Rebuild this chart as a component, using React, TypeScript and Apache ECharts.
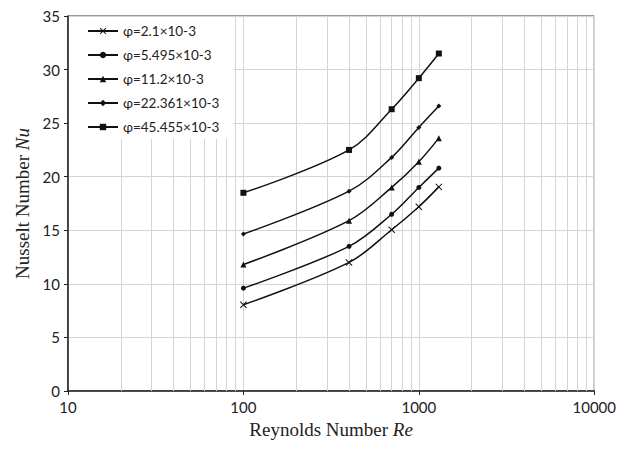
import React, { useEffect, useRef } from "react";
import * as echarts from "echarts";

const reynolds = [100, 400, 700, 1000, 1300];
const seriesNames = [
  "φ=2.1×10-3",
  "φ=5.495×10-3",
  "φ=11.2×10-3",
  "φ=22.361×10-3",
  "φ=45.455×10-3",
];
const nu_2_1 = [8.05, 12.0, 15.05, 17.2, 19.05];
const nu_5_495 = [9.6, 13.5, 16.5, 19.0, 20.8];
const nu_11_2 = [11.8, 15.9, 19.0, 21.4, 23.6];
const nu_22_361 = [14.65, 18.65, 21.8, 24.6, 26.6];
const nu_45_455 = [18.5, 22.5, 26.3, 29.2, 31.5];
const minorGridX = [20, 30, 40, 50, 60, 70, 80, 90, 200, 300, 400, 500, 600, 700, 800, 900, 2000, 3000, 4000, 5000, 6000, 7000, 8000, 9000];

const CROSS = "path://M0,1L1,0L5,4L9,0L10,1L6,5L10,9L9,10L5,6L1,10L0,9L4,5Z";
const symbols = [CROSS, "circle", "triangle", "diamond", "rect"];
const symbolSizes = [7, 5, 6, 5, 6];
const allData = [nu_2_1, nu_5_495, nu_11_2, nu_22_361, nu_45_455];

export default function App() {
  const ref = useRef<HTMLDivElement>(null);
  useEffect(() => {
    if (!ref.current) return;
    const chart = echarts.init(ref.current, null, { renderer: "svg" });
    const series: any[] = allData.map((vals, i) => ({
      name: seriesNames[i],
      type: "line",
      smooth: 0.35,
      data: reynolds.map((x, j) => [x, vals[j]]),
      symbol: symbols[i],
      symbolSize: symbolSizes[i],
      showSymbol: true,
      lineStyle: { color: "#111", width: 1.5 },
      itemStyle: { color: "#111", borderColor: "#111", borderWidth: 0 },
      z: 5,
    }));
    series.push({
      name: "minor",
      type: "line",
      data: [],
      silent: true,
      markLine: {
        silent: true,
        symbol: "none",
        label: { show: false },
        lineStyle: { color: "#d4d4d4", width: 1, type: "solid" },
        data: minorGridX.map((v) => ({ xAxis: v })),
        z: 1,
      },
      z: 1,
    });
    const titleRich = {
      n: { fontFamily: "Liberation Serif", fontSize: 19, color: "#222" },
      i: { fontFamily: "Liberation Serif", fontSize: 19, fontStyle: "italic", color: "#222" },
    };
    chart.setOption({
      animation: false,
      backgroundColor: "#fff",
      grid: {
        left: 68,
        top: 16,
        right: 23,
        bottom: 59,
        show: true,
        borderColor: "#333",
        borderWidth: 1,
        backgroundColor: "transparent",
      },
      legend: {
        data: seriesNames,
        orient: "vertical",
        left: 69,
        top: 17,
        backgroundColor: "#fff",
        padding: [7, 14, 5, 18],
        itemWidth: 30,
        itemHeight: 8,
        itemGap: 10,
        textStyle: { fontFamily: "Lato", fontSize: 13.5, color: "#222", lineHeight: 14 },
        z: 10,
      },
      xAxis: {
        type: "log",
        logBase: 10,
        min: 10,
        max: 10000,
        name: "{n|Reynolds Number }{i|Re}",
        nameLocation: "middle",
        nameGap: 29,
        nameTextStyle: { rich: titleRich },
        axisLine: { show: true, lineStyle: { color: "#222", width: 1.5 } },
        axisTick: { show: true, length: 4, lineStyle: { color: "#222" } },
        axisLabel: {
          fontFamily: "Lato",
          fontSize: 15,
          color: "#222",
          margin: 8,
          formatter: (v: number) => String(Math.round(v)),
        },
        splitLine: { show: true, lineStyle: { color: "#d4d4d4", width: 1 } },
      },
      yAxis: {
        type: "value",
        min: 0,
        max: 35,
        interval: 5,
        name: "{n|Nusselt Number }{i|Nu}",
        nameLocation: "middle",
        nameGap: 26,
        nameTextStyle: { rich: titleRich },
        axisLine: { show: true, lineStyle: { color: "#222", width: 1.5 } },
        axisTick: { show: true, length: 4, lineStyle: { color: "#222" } },
        axisLabel: { fontFamily: "Lato", fontSize: 15, color: "#222", margin: 8 },
        splitLine: { show: true, lineStyle: { color: "#d4d4d4", width: 1 } },
      },
      series,
    });
    return () => chart.dispose();
  }, []);
  return <div ref={ref} style={{ width: 619, height: 450, position: "absolute", left: 0, top: 0 }} />;
}
